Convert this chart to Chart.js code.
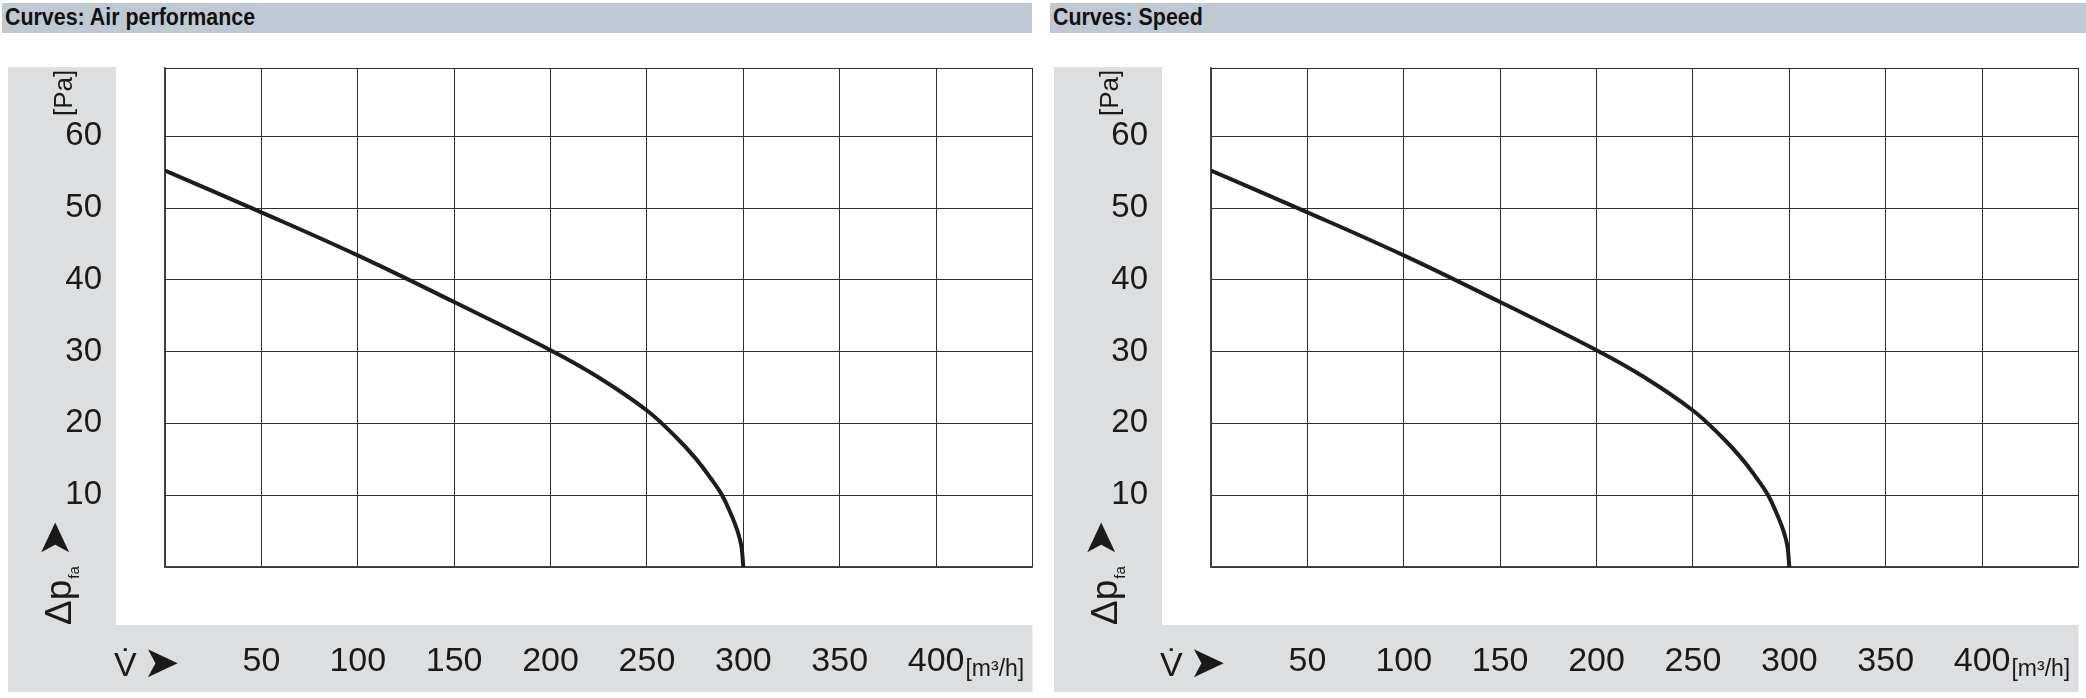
<!DOCTYPE html>
<html><head><meta charset="utf-8">
<script src="https://cdn.jsdelivr.net/npm/chart.js@4.4.1/dist/chart.umd.min.js"></script>
<style>
html,body{margin:0;padding:0;background:#fff;width:2086px;height:698px;overflow:hidden;}
.bar{position:absolute;top:3px;height:30px;background:#bfc9d4;}
.bar span{position:absolute;left:3px;top:1px;line-height:30px;font:bold 23px "Liberation Sans",Arial,sans-serif;color:#111;transform:scaleX(0.93);transform-origin:0 50%;white-space:nowrap;}
canvas{position:absolute;top:36px;}
</style></head><body>
<div class="bar" style="left:2px;width:1030px"><span id="t1"></span></div>
<div class="bar" style="left:1050px;width:1036px"><span id="t2"></span></div>
<canvas id="c1" width="1040" height="662" style="left:0"></canvas>
<canvas id="c2" width="1040" height="662" style="left:1046px"></canvas>
<script>
// ---- data ----
const chartTitles = ['Curves: Air performance', 'Curves: Speed'];
const flowRate = [0, 50, 100, 150, 200, 225, 250, 265, 275, 283, 289, 294, 297, 299, 300];
const pressure = [55.2, 49.4, 43.4, 36.9, 30.2, 26.4, 21.8, 18.1, 15.2, 12.4, 10, 7.1, 5, 2.9, 0];
const xTickValues = [0, 50, 100, 150, 200, 250, 300, 350, 400, 450];
const xTickLabels = ['', '50', '100', '150', '200', '250', '300', '350', '400', ''];
const yTickValues = [0, 10, 20, 30, 40, 50, 60, 69.5];
const yTickLabels = ['', '10', '20', '30', '40', '50', '60', ''];
const xUnit = '[m³/h]';
const yUnit = '[Pa]';
const xSymbol = 'V\u0307';
const ySymbol = '\u0394p';
const ySub = 'fa';
const arrowGlyph = '\u27A4';

const REG = '"Liberation Sans",Arial,sans-serif';
const SYM = '"DejaVu Sans",sans-serif';
const INK = '#1a1a1a';

const decor = {
  id: 'decor',
  beforeDraw(chart) {
    const { ctx, chartArea: a } = chart;
    ctx.save();
    ctx.fillStyle = '#dcdee0';
    ctx.fillRect(8, a.top - 1, a.left - 49 - 8, a.bottom + 125 - (a.top - 1));
    ctx.fillRect(8, a.bottom + 58, a.right - 8, 67);
    ctx.restore();
  },
  afterDraw(chart) {
    const { ctx, chartArea: a, scales: { x } } = chart;
    ctx.save();
    ctx.fillStyle = INK;
    // y unit
    ctx.save();
    ctx.translate(72, a.top + 48);
    ctx.rotate(-Math.PI / 2);
    ctx.textAlign = 'left'; ctx.textBaseline = 'alphabetic';
    ctx.font = '26px ' + REG;
    ctx.fillText(yUnit, 0, 0);
    ctx.restore();
    // y symbol
    ctx.save();
    ctx.translate(71, a.bottom + 58);
    ctx.rotate(-Math.PI / 2);
    ctx.textAlign = 'left'; ctx.textBaseline = 'alphabetic';
    ctx.font = '37px ' + REG;
    ctx.fillText(ySymbol, 0, 0);
    const w1 = ctx.measureText(ySymbol).width;
    ctx.font = '15px ' + REG;
    ctx.fillText(ySub, w1 + 1, 8);
    const w2 = ctx.measureText(ySub).width;
    ctx.font = '44px ' + SYM; ctx.textBaseline = 'middle';
    ctx.fillText(arrowGlyph, w1 + w2 + 10, -13.5);
    ctx.restore();
    // x symbol
    ctx.textAlign = 'left'; ctx.textBaseline = 'alphabetic';
    ctx.font = '34px ' + REG;
    ctx.fillText(xSymbol, 114, a.bottom + 109);
    ctx.font = '44px ' + SYM; ctx.textBaseline = 'middle';
    ctx.fillText(arrowGlyph, 143, a.bottom + 98.5);
    // x unit
    ctx.font = '34px ' + REG;
    const w400 = ctx.measureText('400').width;
    ctx.font = '23px ' + REG; ctx.textBaseline = 'alphabetic';
    ctx.fillText(xUnit, x.getPixelForValue(400) + w400 / 2 + 1, a.bottom + 109);
    ctx.restore();
  }
};

function noPad(s) { s.paddingLeft = 0; s.paddingRight = 0; s.paddingTop = 0; s.paddingBottom = 0; }

function makeChart(id) {
  return new Chart(document.getElementById(id), {
    type: 'line',
    data: {
      datasets: [{
        data: flowRate.map((v, i) => ({ x: v, y: pressure[i] })),
        borderColor: '#1d1d1b',
        borderWidth: 4,
        pointRadius: 0,
        fill: false,
        tension: 0.4
      }]
    },
    options: {
      responsive: false,
      animation: false,
      devicePixelRatio: 1,
      layout: { autoPadding: false, padding: { top: 32, right: 7.5, left: 0, bottom: 0 } },
      plugins: { legend: { display: false }, tooltip: { enabled: false }, title: { display: false } },
      scales: {
        x: {
          type: 'linear', min: 0, max: 450,
          afterBuildTicks: s => { s.ticks = xTickValues.map(v => ({ value: v })); },
          afterFit: s => { s.height = 131; noPad(s); },
          grid: { color: '#2e2e2e', lineWidth: 1, drawTicks: false },
          border: { color: '#444', width: 1.5 },
          ticks: {
            padding: 74, autoSkip: false, maxRotation: 0, color: INK,
            font: { family: REG, size: 34 },
            callback: (v, i) => xTickLabels[i]
          }
        },
        y: {
          type: 'linear', min: 0, max: 69.5,
          afterBuildTicks: s => { s.ticks = yTickValues.map(v => ({ value: v })); },
          afterFit: s => { s.width = 165; noPad(s); },
          grid: { color: '#2e2e2e', lineWidth: 1, drawTicks: false },
          border: { color: '#444', width: 1.5 },
          ticks: {
            padding: 63, autoSkip: false, color: INK,
            font: { family: REG, size: 33 },
            callback: (v, i) => yTickLabels[i]
          }
        }
      }
    },
    plugins: [decor]
  });
}
document.getElementById('t1').textContent = chartTitles[0];
document.getElementById('t2').textContent = chartTitles[1];
makeChart('c1');
makeChart('c2');
</script>
</body></html>
